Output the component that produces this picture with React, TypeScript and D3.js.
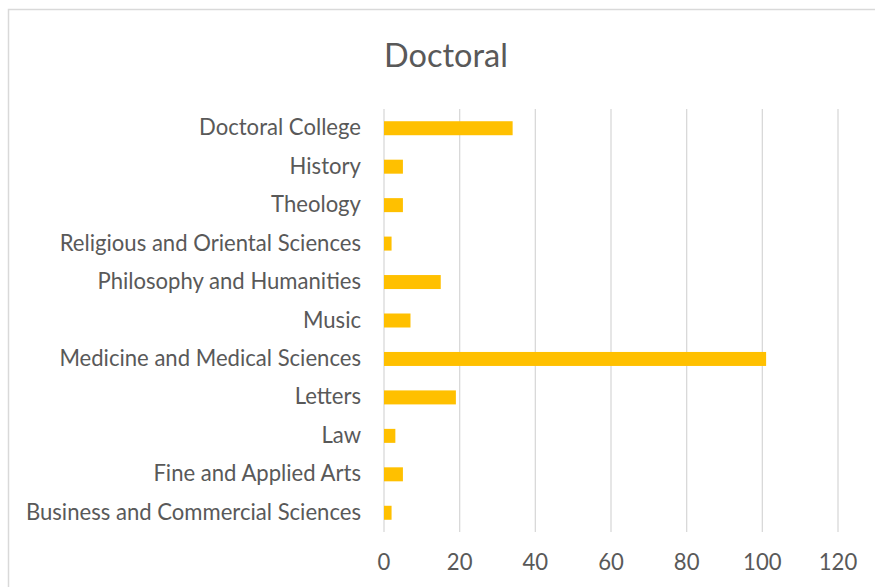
import React from "react";
import * as d3 from "d3";

const categories = [
  "Doctoral College",
  "History",
  "Theology",
  "Religious and Oriental Sciences",
  "Philosophy and Humanities",
  "Music",
  "Medicine and Medical Sciences",
  "Letters",
  "Law",
  "Fine and Applied Arts",
  "Business and Commercial Sciences",
];
const values = [34, 5, 5, 2, 15, 7, 101, 19, 3, 5, 2];
const xTicks = [0, 20, 40, 60, 80, 100, 120];
const title = "Doctoral";

export default function App() {
  const W = 875;
  const H = 587;
  const x = d3.scaleLinear().domain([0, 120]).range([384, 838]);
  const y = d3
    .scaleBand<string>()
    .domain(categories)
    .range([109, 532])
    .paddingInner(0.636)
    .paddingOuter(0.318);
  const font = "Lato, 'Open Sans', sans-serif";
  const textColor = "#595959";
  return (
    <svg
      width={W}
      height={H}
      style={{ position: "absolute", left: 0, top: 0, background: "#fff" }}
    >
      <rect x={8.5} y={9.5} width={900} height={700} fill="#fff" stroke="#D9D9D9" strokeWidth={1.5} />
      <text x={446} y={54} textAnchor="middle" dominantBaseline="central" fontFamily={font} fontSize={32.5} fill={textColor}>
        {title}
      </text>
      {xTicks.map((t) => (
        <line key={"g" + t} x1={x(t)} x2={x(t)} y1={109} y2={532} stroke="#D9D9D9" strokeWidth={1.3} />
      ))}
      {categories.map((c, i) => (
        <rect key={c} x={x(0)} y={y(c)} width={x(values[i]) - x(0)} height={y.bandwidth()} fill="#FFC000" />
      ))}
      {categories.map((c) => (
        <text key={"l" + c} x={361} y={(y(c) as number) + y.bandwidth() / 2 - 1.5} textAnchor="end" dominantBaseline="central" fontFamily={font} fontSize={22.1} fill={textColor}>
          {c}
        </text>
      ))}
      {xTicks.map((t) => (
        <text key={"t" + t} x={x(t)} y={561} textAnchor="middle" dominantBaseline="central" fontFamily={font} fontSize={22.1} fill={textColor}>
          {t}
        </text>
      ))}
    </svg>
  );
}
